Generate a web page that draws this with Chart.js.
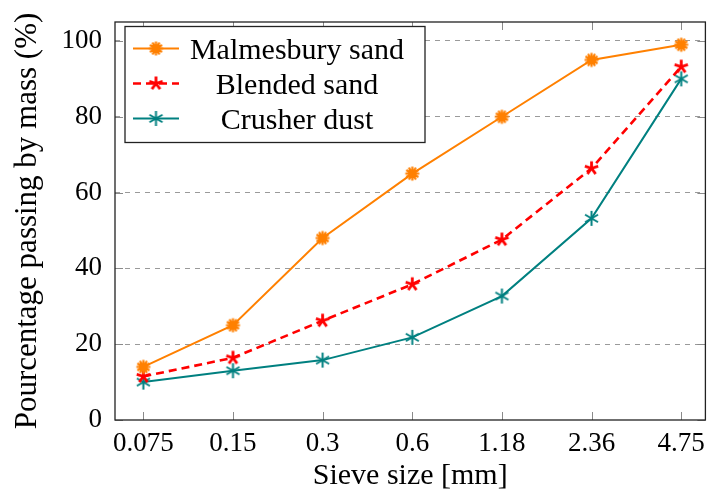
<!DOCTYPE html>
<html>
<head>
<meta charset="utf-8">
<script src="https://cdn.jsdelivr.net/npm/chart.js@4.4.0/dist/chart.umd.min.js"></script>
<style>
  html, body { margin: 0; padding: 0; background: #fff; }
</style>
</head>
<body>
<canvas id="sieveChart" width="712" height="498"></canvas>
<script>
// sieve sizes in mm (category axis)
const sieveSizes = ['0.075', '0.15', '0.3', '0.6', '1.18', '2.36', '4.75'];
const malmesburySand = [14, 25, 48, 65, 80, 95, 99];
const blendedSand = [11.5, 16.4, 26.2, 35.8, 47.6, 66.4, 93.2];
const crusherDust = [10, 13, 15.8, 21.8, 32.7, 53.2, 90];
const yTicks = [0, 20, 40, 60, 80, 100];

const serif = '"Liberation Serif", "Times New Roman", serif';

function makeMarker(color, spokes, radius, width) {
    const size = Math.ceil(radius * 2 + width + 2);
    const c = document.createElement('canvas');
    c.width = size;
    c.height = size;
    const ctx = c.getContext('2d');
    ctx.strokeStyle = color;
    ctx.lineWidth = width;
    ctx.translate(size / 2, size / 2);
    ctx.beginPath();
    for (let i = 0; i < spokes; i++) {
        const a = -Math.PI / 2 + i * 2 * Math.PI / spokes;
        ctx.moveTo(0, 0);
        ctx.lineTo(radius * Math.cos(a), radius * Math.sin(a));
    }
    ctx.stroke();
    return c;
}

function toPoints(values) {
    return values.map((v, i) => ({ x: i, y: v }));
}

const orangeMark = makeMarker('#ff8000', 12, 7, 2.2);
const redMark = makeMarker('#ff0000', 5, 7, 2.8);
const tealMark = makeMarker('#008080', 6, 7.5, 2);

// inside ticks + full frame, pgfplots style
const frameAndTicks = {
    id: 'frameAndTicks',
    afterDatasetsDraw(chart) {
        const { ctx, chartArea: a, scales } = chart;
        const len = 8;
        ctx.save();
        ctx.strokeStyle = '#8a8a8a';
        ctx.lineWidth = 1;
        ctx.beginPath();
        scales.x.ticks.forEach(t => {
            const px = Math.round(scales.x.getPixelForValue(t.value)) + 0.5;
            ctx.moveTo(px, a.bottom);
            ctx.lineTo(px, a.bottom - len);
            ctx.moveTo(px, a.top);
            ctx.lineTo(px, a.top + len);
        });
        scales.y.ticks.forEach(t => {
            const py = Math.round(scales.y.getPixelForValue(t.value)) + 0.5;
            ctx.moveTo(a.left, py);
            ctx.lineTo(a.left + len, py);
            ctx.moveTo(a.right, py);
            ctx.lineTo(a.right - len, py);
        });
        ctx.stroke();
        ctx.strokeStyle = '#222';
        ctx.lineWidth = 1.3;
        ctx.strokeRect(a.left, a.top, a.right - a.left, a.bottom - a.top);
        ctx.restore();
    }
};

// boxed legend with line samples, text centered in its column
const boxLegend = {
    id: 'boxLegend',
    afterDraw(chart) {
        const { ctx } = chart;
        const box = { x: 125, y: 26.5, w: 300, h: 116 };
        ctx.save();
        ctx.fillStyle = '#fff';
        ctx.fillRect(box.x, box.y, box.w, box.h);
        ctx.strokeStyle = '#222';
        ctx.lineWidth = 1.3;
        ctx.strokeRect(box.x, box.y, box.w, box.h);
        ctx.font = '30px ' + serif;
        ctx.textAlign = 'center';
        ctx.textBaseline = 'alphabetic';
        chart.data.datasets.forEach((ds, i) => {
            const base = 58.5 + i * 35;
            const ly = base - 10;
            ctx.strokeStyle = ds.borderColor;
            ctx.lineWidth = ds.borderWidth;
            ctx.setLineDash(ds.borderDash || []);
            ctx.beginPath();
            ctx.moveTo(133, ly);
            ctx.lineTo(179, ly);
            ctx.stroke();
            ctx.setLineDash([]);
            const m = ds.pointStyle;
            ctx.drawImage(m, 156 - m.width / 2, ly - m.height / 2);
            ctx.fillStyle = '#000';
            ctx.fillText(ds.label, 297, base);
        });
        ctx.restore();
    }
};

new Chart(document.getElementById('sieveChart').getContext('2d'), {
    type: 'line',
    data: {
        datasets: [{
            label: 'Malmesbury sand',
            data: toPoints(malmesburySand),
            borderColor: '#ff8000',
            borderWidth: 2,
            pointStyle: orangeMark
        }, {
            label: 'Blended sand',
            data: toPoints(blendedSand),
            borderColor: '#ff0000',
            borderWidth: 2.6,
            borderDash: [8, 5],
            pointStyle: redMark
        }, {
            label: 'Crusher dust',
            data: toPoints(crusherDust),
            borderColor: '#008080',
            borderWidth: 2,
            pointStyle: tealMark
        }]
    },
    options: {
        responsive: false,
        animation: false,
        clip: false,
        tension: 0,
        layout: { padding: { top: 22, right: 6, left: 0, bottom: 0 } },
        plugins: {
            legend: { display: false },
            tooltip: { enabled: false }
        },
        scales: {
            x: {
                type: 'linear',
                min: -0.316,
                max: 6.27,
                afterBuildTicks: s => { s.ticks = sieveSizes.map((_, i) => ({ value: i })); },
                afterFit: s => { s.height = 78; s.paddingLeft = 0; s.paddingRight = 0; },
                grid: { display: false, drawTicks: false },
                border: { display: false },
                ticks: {
                    color: '#000',
                    padding: 8,
                    maxRotation: 0,
                    font: { family: serif, size: 27 },
                    callback: v => sieveSizes[v]
                },
                title: {
                    display: true,
                    text: 'Sieve size [mm]',
                    color: '#000',
                    font: { family: serif, size: 30 },
                    padding: { top: 0, bottom: 4 }
                }
            },
            y: {
                min: 0,
                max: 105,
                afterBuildTicks: s => { s.ticks = yTicks.map(v => ({ value: v })); },
                afterFit: s => { s.width = 115; s.paddingTop = 0; s.paddingBottom = 0; },
                grid: {
                    drawTicks: false,
                    color: c => c.tick && c.tick.value === 0 ? 'rgba(0,0,0,0)' : '#9a9a9a',
                    lineWidth: 1
                },
                border: { display: false, dash: [5, 5] },
                ticks: {
                    color: '#000',
                    padding: 13,
                    font: { family: serif, size: 27 }
                },
                title: {
                    display: true,
                    text: 'Pourcentage passing by mass (%)',
                    color: '#000',
                    font: { family: serif, size: 31 },
                    padding: { top: 9, bottom: 0 }
                }
            }
        }
    },
    plugins: [frameAndTicks, boxLegend]
});
</script>
</body>
</html>
